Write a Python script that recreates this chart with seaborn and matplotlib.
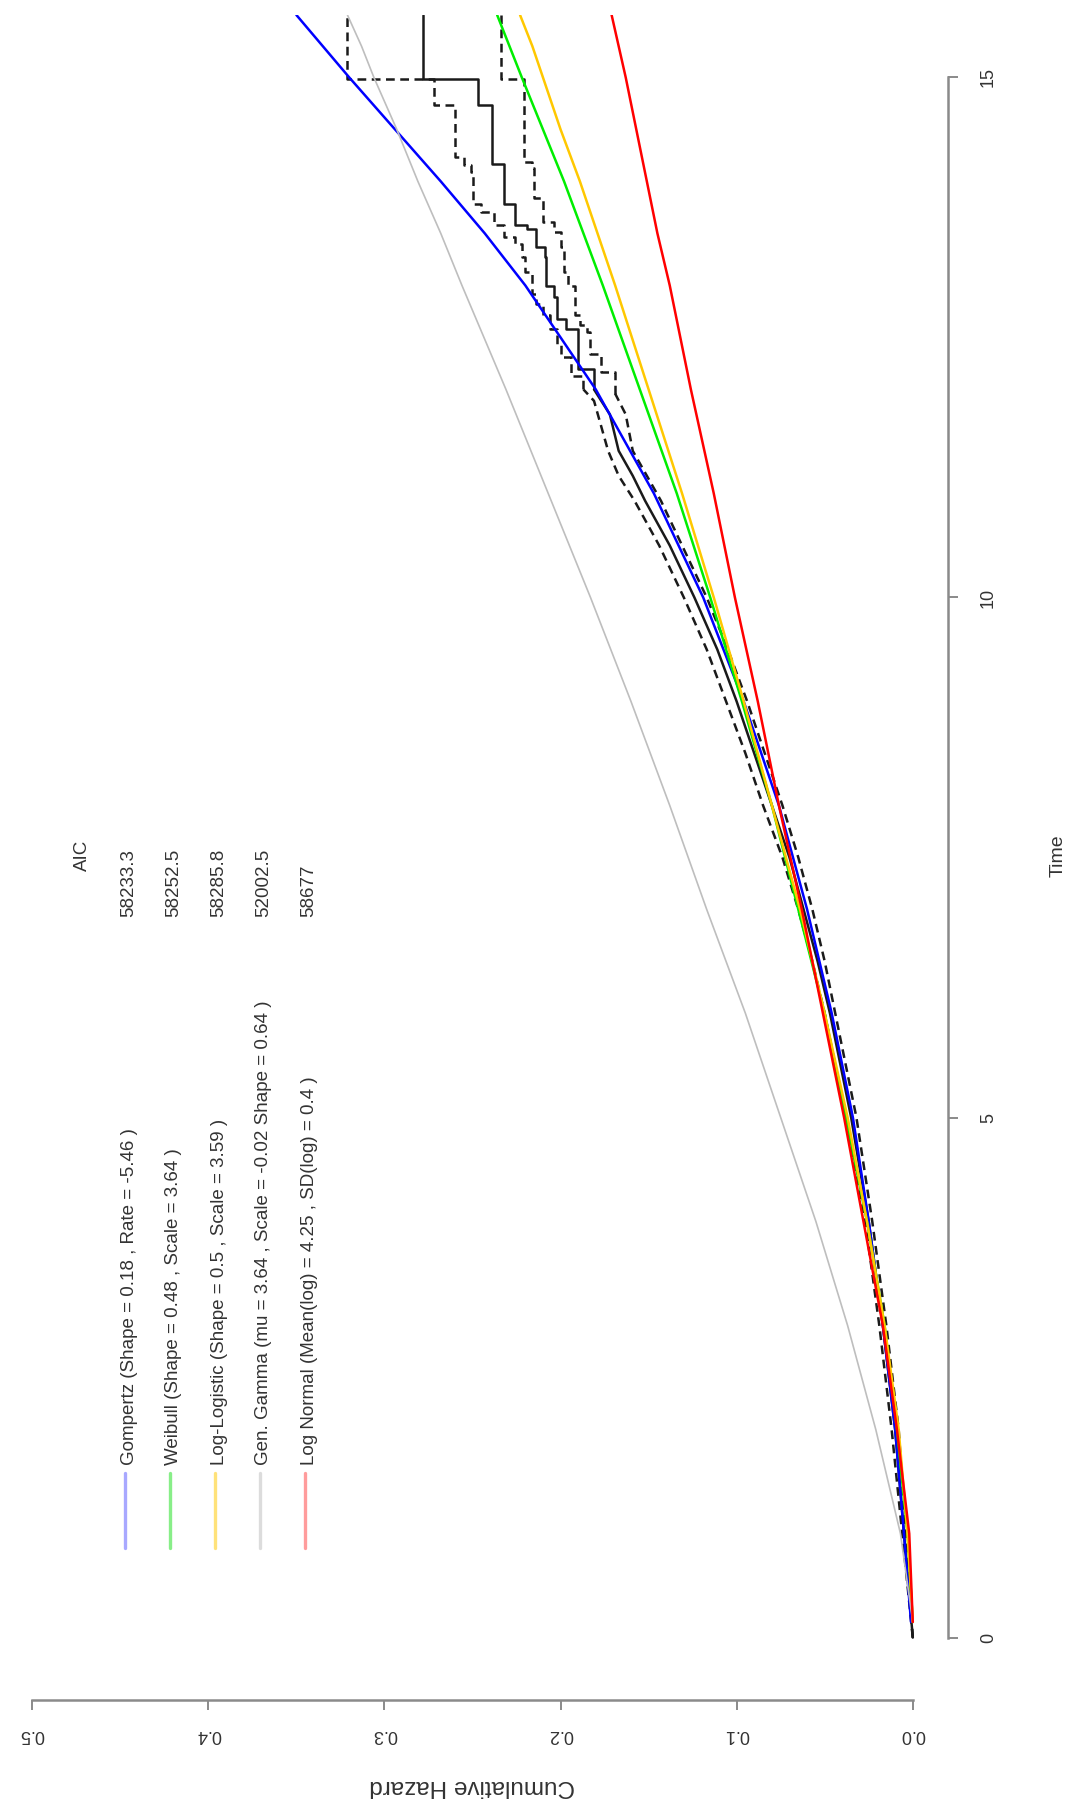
"""Cumulative hazard: KM estimate vs parametric fits (rotated R-style layout)"""
import matplotlib
matplotlib.use('Agg')
import matplotlib.pyplot as plt
import seaborn as sns
from matplotlib.lines import Line2D

sns.set_style('white')
plt.rcParams['font.family'] = ['Liberation Sans', 'DejaVu Sans']

# --- fitted curves (time, cumulative hazard) ---
fit_t = [0.15, 1, 2, 3, 4, 5, 6, 7, 8, 9, 10, 11, 12, 13, 13.5, 14, 14.5, 15, 15.3, 15.6]
gompertz_h = [0.001, 0.005, 0.010, 0.017, 0.025, 0.034, 0.046, 0.060, 0.076, 0.096,
              0.119, 0.147, 0.180, 0.220, 0.243, 0.268, 0.294, 0.320, 0.335, 0.350]
weibull_h = [0.000, 0.003, 0.009, 0.016, 0.026, 0.038, 0.050, 0.065, 0.080, 0.097,
             0.115, 0.134, 0.155, 0.176, 0.187, 0.198, 0.210, 0.222, 0.229, 0.236]
loglogis_h = [0.000, 0.003, 0.008, 0.016, 0.026, 0.037, 0.050, 0.064, 0.080, 0.096,
              0.113, 0.131, 0.150, 0.169, 0.179, 0.189, 0.200, 0.210, 0.216, 0.223]
gengamma_h = [0.000, 0.007, 0.021, 0.037, 0.055, 0.075, 0.095, 0.117, 0.138, 0.160,
              0.183, 0.207, 0.231, 0.256, 0.268, 0.281, 0.293, 0.306, 0.313, 0.321]
lognorm_h = [0.000, 0.002, 0.009, 0.017, 0.028, 0.039, 0.051, 0.063, 0.076, 0.088,
             0.101, 0.113, 0.126, 0.138, 0.145, 0.151, 0.157, 0.163, 0.167, 0.171]

# --- Kaplan-Meier type estimate: dense early part (tiny steps) and coarse late steps ---
km_t = [0, 1, 2, 3, 4, 5, 6, 6.5, 7, 7.5, 8, 8.5, 9, 9.5, 10, 10.5, 10.93, 11.17, 11.41,
        11.76, 12.0]
km_h = [0, 0.005, 0.010, 0.017, 0.025, 0.035, 0.047, 0.054, 0.062, 0.070, 0.080, 0.090,
        0.100, 0.111, 0.124, 0.138, 0.152, 0.159, 0.167, 0.172, 0.181]
km_step_t = [12.0, 12.2, 12.58, 12.68, 12.89, 12.99, 13.27, 13.37, 13.54, 13.58, 13.78,
             14.17, 14.73, 14.98, 15.6]
km_step_h = [0.181, 0.190, 0.197, 0.202, 0.204, 0.208, 0.209, 0.214, 0.219, 0.226, 0.232,
             0.239, 0.247, 0.278, 0.278]

# upper confidence limit
up_t = [0, 1, 2, 3, 4, 5, 6, 6.5, 7, 7.5, 8, 8.5, 9, 9.5, 10, 10.5, 10.93, 11.17, 11.41,
        11.65, 11.89, 12.0]
up_h = [0, 0.006, 0.012, 0.019, 0.027, 0.038, 0.050, 0.057, 0.065, 0.074, 0.085, 0.095,
        0.106, 0.117, 0.130, 0.144, 0.158, 0.167, 0.173, 0.177, 0.181, 0.187]
up_step_t = [12.0, 12.13, 12.31, 12.44, 12.58, 12.72, 12.82, 12.92, 13.13, 13.27, 13.40,
             13.47, 13.58, 13.71, 13.78, 14.09, 14.16, 14.23, 14.73, 14.98, 15.6]
up_step_h = [0.187, 0.194, 0.200, 0.202, 0.206, 0.210, 0.214, 0.216, 0.220, 0.222,
             0.226, 0.232, 0.238, 0.245, 0.250, 0.251, 0.255, 0.260, 0.272, 0.321, 0.321]

# lower confidence limit
lo_t = [0, 1, 2, 3, 4, 5, 6, 6.5, 7, 7.5, 8, 8.5, 9, 9.5, 10, 10.5, 10.93, 11.17, 11.41,
        11.76, 11.96]
lo_h = [0, 0.004, 0.008, 0.015, 0.023, 0.032, 0.044, 0.050, 0.057, 0.065, 0.074, 0.084,
        0.094, 0.105, 0.117, 0.131, 0.143, 0.151, 0.159, 0.163, 0.169]
lo_step_t = [11.96, 12.17, 12.34, 12.55, 12.62, 12.72, 12.99, 13.13, 13.37, 13.51, 13.61,
             13.84, 14.13, 14.19, 14.98, 15.6]
lo_step_h = [0.169, 0.177, 0.183, 0.185, 0.189, 0.192, 0.196, 0.198, 0.200, 0.204,
             0.210, 0.215, 0.216, 0.221, 0.234, 0.234]

# --- legend content ---
model_labels = ['Gompertz (Shape = 0.18 , Rate = -5.46 )',
                'Weibull (Shape = 0.48 , Scale = 3.64 )',
                'Log-Logistic (Shape = 0.5 , Scale = 3.59 )',
                'Gen. Gamma (mu = 3.64 , Scale = -0.02 Shape = 0.64 )',
                'Log Normal (Mean(log) = 4.25 , SD(log) = 0.4 )']
aic_values = ['58233.3', '58252.5', '58285.8', '52002.5', '58677']
line_colors = ['#0000ff', '#00ee00', '#ffc800', '#bebebe', '#ff0000']
legend_colors = ['#a8a8ff', '#88ee88', '#ffe27a', '#dcdcdc', '#ff9c9c']

haz_ticks = [0.0, 0.1, 0.2, 0.3, 0.4, 0.5]
time_ticks = [0, 5, 10, 15]

W, H = 1080, 1814
fig = plt.figure(figsize=(W / 100, H / 100), dpi=100)
ax = fig.add_axes([-3 / W, 1 - 1700 / H, 951 / W, 1685 / H])


def fx(x):
    return x / W


def fy(y):
    return 1 - y / H


# KM and CI drawn first, fitted curves on top
dash = (0, (3.5, 2.2))
km_col = '#1a1a1a'
for t, h, st_t, st_h, ls in [(km_t, km_h, km_step_t, km_step_h, '-'),
                             (up_t, up_h, up_step_t, up_step_h, dash),
                             (lo_t, lo_h, lo_step_t, lo_step_h, dash)]:
    sns.lineplot(x=h, y=t, orient='y', sort=False, estimator=None, ax=ax,
                 color=km_col, linewidth=1.8)
    ax.lines[-1].set_linestyle(ls)
    sns.lineplot(x=st_h, y=st_t, orient='y', sort=False, estimator=None, ax=ax,
                 color=km_col, linewidth=1.8, drawstyle='steps-pre')
    ax.lines[-1].set_linestyle(ls)

fits = [gompertz_h, weibull_h, loglogis_h, gengamma_h, lognorm_h]
widths = [1.8, 1.8, 1.8, 1.2, 1.8]
for h, c, lw in zip(fits, line_colors, widths):
    sns.lineplot(x=h, y=fit_t, orient='y', sort=False, estimator=None, ax=ax,
                 color=c, linewidth=lw)

ax.set_xlim(0.52, -0.02)
ax.set_ylim(-0.6, 15.6)
ax.set_xlabel('')
ax.set_ylabel('')

axis_col = '#8a8a8a'
for s in ['top', 'left']:
    ax.spines[s].set_visible(False)
ax.spines['bottom'].set_bounds(0, 0.5)
ax.spines['right'].set_bounds(0, 15)
for s in ['bottom', 'right']:
    ax.spines[s].set_color(axis_col)
    ax.spines[s].set_linewidth(1.8)

ax.yaxis.tick_right()
ax.set_xticks(haz_ticks)
ax.set_xticklabels([f'{v:.1f}' for v in haz_ticks], rotation=180)
ax.set_yticks(time_ticks)
ax.set_yticklabels([str(v) for v in time_ticks], rotation=90, va='center')
ax.tick_params(axis='x', direction='out', length=7, width=1.4, color=axis_col,
               pad=12, labelsize=13, labelcolor='#333333', bottom=True)
ax.tick_params(axis='y', direction='out', length=7, width=1.4, color=axis_col,
               pad=16, labelsize=13, labelcolor='#333333', right=True, left=False)

fig.text(fx(472), fy(1786), 'Cumulative Hazard', rotation=180, ha='center', va='center',
         fontsize=17.5, color='#333333')
fig.text(fx(1058), fy(856), 'Time', rotation=90, ha='center', va='center',
         fontsize=14, color='#333333')

# legend: rotated columns
row_x = [125, 170, 215, 260, 305]
for x, lab, aic, lc in zip(row_x, model_labels, aic_values, legend_colors):
    fig.add_artist(Line2D([fx(x), fx(x)], [fy(1473), fy(1548)], color=lc, linewidth=2.4,
                          transform=fig.transFigure))
    fig.text(fx(x + 4), fy(1465), lab, rotation=90, rotation_mode='anchor',
             ha='left', va='center', fontsize=13.5, color='#333333')
    fig.text(fx(x + 4), fy(917), aic, rotation=90, rotation_mode='anchor',
             ha='left', va='center', fontsize=13.5, color='#333333')
fig.text(fx(82), fy(855), 'AIC', rotation=90, ha='center', va='center',
         fontsize=13.5, color='#333333')

fig.savefig('out.png', dpi=100, facecolor='white')
